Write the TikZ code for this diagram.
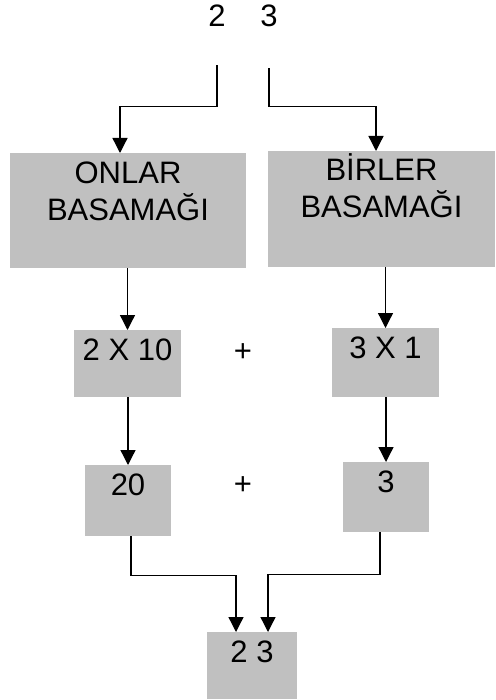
\documentclass[tikz,border=0pt]{standalone}
\usepackage{fontspec}
\setmainfont{Liberation Sans}
\usetikzlibrary{arrows.meta}
\definecolor{kutugri}{RGB}{192,192,192}
\begin{document}
\begin{tikzpicture}[x=1pt, y=-1pt,
        font=\fontsize{31}{37}\selectfont,
        kutu/.style={fill=kutugri, inner sep=0pt, anchor=north, text height=30pt, align=center},
        ok/.style={line width=1.3pt, -{Triangle[width=15pt,length=15pt]}}]
    \useasboundingbox (0,0) rectangle (495,700);
    % sayi ve basamak kutulari
    \node[inner sep=0pt, anchor=base] (ikiust) at (217,27) {2};
    \node[inner sep=0pt, anchor=base] (ucust) at (269,27) {3};
    \node[kutu, minimum width=236pt, text height=67pt, text depth=48pt] (onlar) at (128,153) {ONLAR\\BASAMAĞI};
    \node[kutu, minimum width=227pt, text height=66pt, text depth=50pt] (birler) at (381.5,151) {BİRLER\\BASAMAĞI};
    \node[kutu, minimum width=107pt, text depth=37pt] (onkat) at (127.5,330) {2 X 10};
    \node[kutu, minimum width=107pt, text depth=39pt] (birkat) at (385.5,328) {3 X 1};
    \node[kutu, minimum width=86pt, text depth=41pt] (yirmi) at (128,465) {20};
    \node[kutu, minimum width=86pt, text depth=40pt] (uc) at (386,462) {3};
    \node[kutu, minimum width=90pt, text depth=37pt] (sonuc) at (252,632) {2 3};
    \node[anchor=base] (arti1) at (243,361) {+};
    \node[anchor=base] (arti2) at (243,494) {+};
    % oklar
    \draw[ok] ([yshift=-38pt]ikiust.south) -- ++(0,41) -| ([xshift=-8pt]onlar.north);
    \draw[ok] ([yshift=-41pt]ucust.south) -- ++(0,38) -| ([xshift=-5.5pt]birler.north);
    \draw[ok] (onlar.south -| onkat.north) -- (onkat.north);
    \draw[ok] (birler.south -| birkat.north) -- (birkat.north);
    \draw[ok] (onkat.south -| yirmi.north) -- (yirmi.north);
    \draw[ok] (birkat.south -| uc.north) -- (uc.north);
    \draw[ok] ([xshift=3pt]yirmi.south) -- ++(0,39) -| ([xshift=-16pt]sonuc.north);
    \draw[ok] ([xshift=-6pt]uc.south) -- ++(0,42) -| ([xshift=16pt]sonuc.north);
\end{tikzpicture}
\end{document}
